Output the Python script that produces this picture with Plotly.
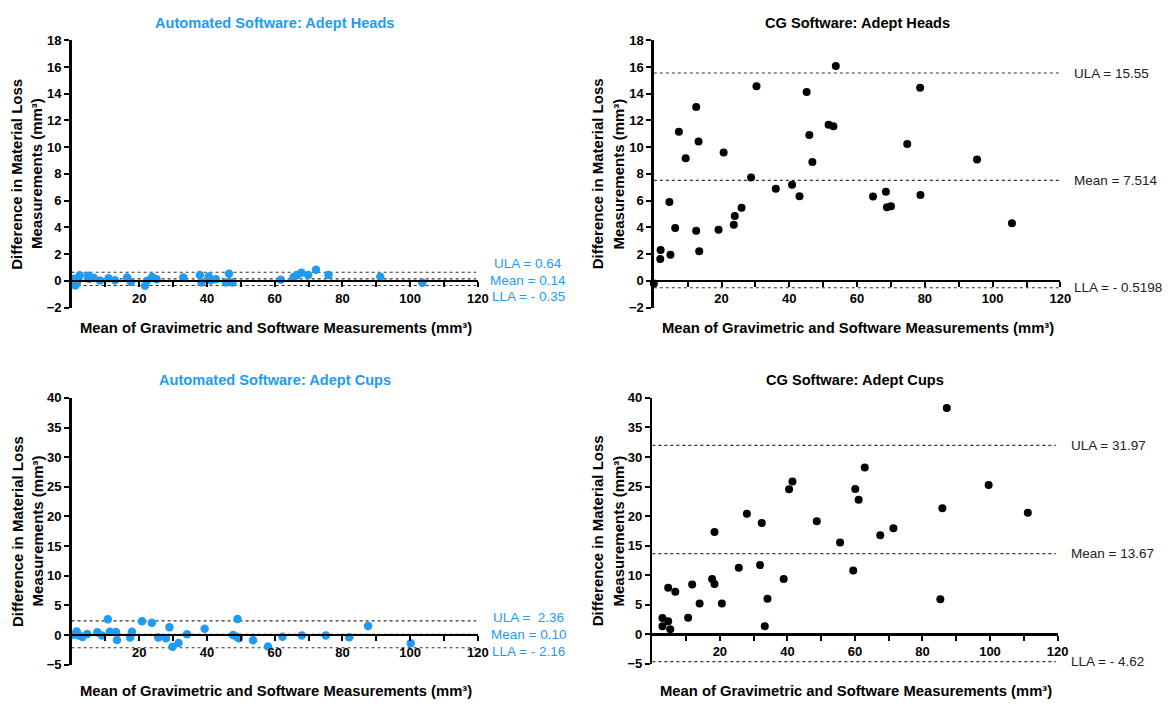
import plotly.graph_objects as go

W, H = 1176, 713
BLUE = "rgb(30,155,245)"
BLACK = "#000000"
GREY = "#222222"
FONT = "Liberation Sans"

# ---------------- data ----------------
# Automated Software: Adept Heads
ah_x = [0.6, 1.1, 1.5, 1.9, 2.4, 4.9, 5.2, 6.5, 8.4, 10.9, 12.8, 16.4, 17.5, 21.7, 22.3, 23.8, 25.1,
        33.0, 37.9, 38.4, 40.5, 41.1, 42.6, 45.6, 46.5, 47.5, 61.8, 65.6, 66.6, 67.9, 69.9, 72.2,
        75.9, 91.2, 103.6]
ah_y = [0.15, -0.35, -0.2, 0.12, 0.42, 0.37, 0.15, 0.22, 0.03, 0.2, 0.05, 0.24, -0.08, -0.37, 0.0,
        0.29, 0.12, 0.24, 0.44, -0.12, 0.33, 0.05, 0.12, -0.12, 0.52, -0.12, 0.08, 0.29, 0.44, 0.61,
        0.44, 0.82, 0.44, 0.3, -0.15]
ah_loa = [0.64, 0.14, -0.35]
ah_labels = ["ULA = 0.64", "Mean = 0.14", "LLA = - 0.35"]

# CG Software: Adept Heads
cgh_x = [0.0, 2.0, 1.9, 4.6, 4.9, 6.3, 7.4, 9.4, 12.5, 13.2, 12.5, 13.4, 19.1, 20.6, 23.6, 23.9, 25.9,
         28.7, 30.3, 36.0, 40.8, 43.0, 45.1, 45.9, 46.8, 51.6, 53.0, 53.7, 64.7, 68.5, 68.8, 70.0,
         74.8, 78.6, 78.7, 95.4, 105.7]
cgh_y = [-0.2, 2.31, 1.63, 5.89, 1.95, 3.95, 11.15, 9.18, 13.0, 10.42, 3.75, 2.22, 3.82, 9.6, 4.19,
         4.85, 5.46, 7.74, 14.56, 6.89, 7.18, 6.33, 14.13, 10.91, 8.89, 11.67, 11.57, 16.07, 6.31,
         6.67, 5.50, 5.58, 10.23, 14.44, 6.43, 9.08, 4.31]
cgh_loa = [15.55, 7.514, -0.5198]
cgh_labels = ["ULA = 15.55", "Mean = 7.514", "LLA = - 0.5198"]

# Automated Software: Adept Cups
ac_x = [0.6, 1.5, 2.2, 3.2, 4.6, 7.6, 9.0, 10.7, 11.3, 13.1, 13.4, 17.3, 17.8, 20.8, 23.7, 25.6, 27.9,
        28.9, 29.8, 31.6, 34.1, 39.3, 47.7, 49.0, 48.7, 49.4, 53.6, 58.0, 62.3, 68.0, 75.1, 82.0,
        87.6, 100.2]
ac_y = [0.05, 0.6, -0.1, -0.35, 0.15, 0.45, -0.1, 2.65, 0.55, 0.5, -0.85, -0.45, 0.55, 2.3, 2.07,
        -0.45, -0.55, 1.3, -2.0, -1.37, 0.1, 1.03, 0.0, 2.7, -0.3, -0.55, -0.9, -1.97, -0.3, -0.1,
        -0.1, -0.4, 1.52, -1.4]
ac_loa = [2.36, 0.10, -2.16]
ac_labels = ["ULA = \u00a02.36", "Mean = 0.10", "LLA = - 2.16"]

# CG Software: Adept Cups
cgc_x = [3.0, 3.0, 4.7, 4.7, 5.3, 6.8, 10.6, 11.8, 14.0, 17.7, 18.4, 18.4, 20.6, 25.6, 28.0, 31.9,
         32.4, 33.3, 34.1, 38.9, 40.5, 41.5, 48.7, 55.6, 59.5, 60.1, 61.1, 62.9, 67.5, 71.4, 85.3,
         85.9, 87.2, 99.6, 111.2]
cgc_y = [2.75, 1.38, 7.87, 2.2, 0.88, 7.21, 2.81, 8.42, 5.23, 9.35, 8.53, 17.33, 5.23, 11.28, 20.41,
         11.72, 18.82, 1.38, 6.0, 9.35, 24.54, 25.86, 19.15, 15.52, 10.78, 24.59, 22.78, 28.23,
         16.78, 17.94, 5.94, 21.35, 38.29, 25.25, 20.58]
cgc_loa = [31.97, 13.67, -4.62]
cgc_labels = ["ULA = 31.97", "Mean = 13.67", "LLA = - 4.62"]

titles = ["Automated Software: Adept Heads", "CG Software: Adept Heads",
          "Automated Software: Adept Cups", "CG Software: Adept Cups"]
x_title = "Mean of Gravimetric and Software Measurements (mm\u00b3)"
y_title_1 = "Difference in Material Loss"
y_title_2 = "Measurements (mm\u00b3)"
x_tickvals = [10, 20, 30, 40, 50, 60, 70, 80, 90, 100, 110, 120]
x_ticktext = ["", "20", "", "40", "", "60", "", "80", "", "100", "", "120"]

# ---------------- layout geometry (pixels) ----------------
panels = [
    dict(x=(72.3, 482.3), y=(34.0, 307.0), yr=(-2, 18), dt=2, xs=ah_x, ys=ah_y, loa=ah_loa,
         lab=ah_labels, col=BLUE, tcol=BLUE, ytl=(17, 37.5), ttl_y=16, xt_y=328),
    dict(x=(660.0, 1070.4), y=(34.0, 307.0), yr=(-2, 18), dt=2, xs=cgh_x, ys=cgh_y, loa=cgh_loa,
         lab=cgh_labels, col=BLACK, tcol=BLACK, ytl=(604, 624.5), ttl_y=16, xt_y=328),
    dict(x=(72.3, 482.3), y=(399.3, 671.7), yr=(-5, 40), dt=5, xs=ac_x, ys=ac_y, loa=ac_loa,
         lab=ac_labels, col=BLUE, tcol=BLUE, ytl=(17, 37.5), ttl_y=381, xt_y=699),
    dict(x=(658.5, 1067.5), y=(399.3, 671.0), yr=(-5, 40), dt=5, xs=cgc_x, ys=cgc_y, loa=cgc_loa,
         lab=cgc_labels, col=BLACK, tcol=BLACK, ytl=(604, 624.5), ttl_y=381, xt_y=699),
]


def px(v):
    return v / W


def py(v):
    return 1 - v / H


fig = go.Figure()
shapes = []
annotations = []
TICKFONT = dict(family=FONT, size=13, color=BLACK, weight="bold")

for i, p in enumerate(panels):
    n = "" if i == 0 else str(i + 1)
    xa, ya = "x" + n, "y" + n
    ydom = [py(p["y"][1]), py(p["y"][0])]
    y0, y1 = p["yr"]
    zero_pos = ydom[0] + (0 - y0) / (y1 - y0) * (ydom[1] - ydom[0])

    fig.add_trace(go.Scatter(
        x=p["xs"], y=p["ys"], mode="markers", xaxis=xa, yaxis=ya,
        marker=dict(size=8.5 if p["col"] == BLUE else 8, color=p["col"], line=dict(width=0)),
        showlegend=False, cliponaxis=False, hoverinfo="skip"))

    fig.layout["xaxis" + n] = dict(
        domain=[px(p["x"][0]), px(p["x"][1])], range=[0, 120], anchor="free", position=zero_pos,
        showline=True, linecolor=BLACK, linewidth=2.5, ticks="outside", ticklen=5, tickwidth=2,
        tickcolor=BLACK, tickvals=x_tickvals, ticktext=x_ticktext, showgrid=False, zeroline=False,
        tickfont=TICKFONT)
    fig.layout["yaxis" + n] = dict(
        domain=ydom, range=list(p["yr"]), anchor=xa, showline=True, linecolor=BLACK,
        linewidth=2.5, ticks="outside", ticklen=5, tickwidth=2, tickcolor=BLACK, dtick=p["dt"],
        tick0=0, showgrid=False, zeroline=False, tickfont=TICKFONT)

    for v in p["loa"]:
        shapes.append(dict(type="line", xref=xa, yref=ya, x0=0, x1=119.5, y0=v, y1=v,
                           line=dict(color="#333333", width=1.2, dash="dot"), layer="below"))

    cx = (p["x"][0] + p["x"][1]) / 2
    annotations.append(dict(text=titles[i], x=px(cx), y=py(p["ttl_y"]),
                            xref="paper", yref="paper", showarrow=False, xanchor="center",
                            yanchor="middle",
                            font=dict(family=FONT, size=14.6, color=p["tcol"], weight="bold")))
    annotations.append(dict(text=x_title, x=px(cx + 1), y=py(p["xt_y"]),
                            xref="paper", yref="paper", showarrow=False, xanchor="center",
                            yanchor="middle",
                            font=dict(family=FONT, size=14.8, color=BLACK, weight="bold")))
    cy = (p["y"][0] + p["y"][1]) / 2
    for t, xx in zip([y_title_1, y_title_2], p["ytl"]):
        annotations.append(dict(text=t, x=px(xx), y=py(cy), xref="paper",
                                yref="paper", showarrow=False, textangle=-90, xanchor="center",
                                yanchor="middle",
                                font=dict(family=FONT, size=15, color=BLACK, weight="bold")))

for p, ys in [(panels[0], [262, 279, 296]), (panels[2], [624, 641, 658])]:
    for t, yy in zip(p["lab"], ys):
        annotations.append(dict(text=t, x=px(533), y=py(yy), xref="paper", yref="paper",
                                showarrow=False, xanchor="center", yanchor="middle",
                                font=dict(family=FONT, size=13.5, color=BLUE)))
for p, n, xl in [(panels[1], "2", 1082.5), (panels[3], "4", 1079.5)]:
    for t, v in zip(p["lab"], p["loa"]):
        annotations.append(dict(text=t, x=px(xl), y=v, xref="paper", yref="y" + n,
                                showarrow=False, xanchor="left", yanchor="middle",
                                font=dict(family=FONT, size=13.5, color=GREY)))

fig.update_layout(width=W, height=H, margin=dict(l=0, r=0, t=0, b=0),
                  paper_bgcolor="white", plot_bgcolor="white",
                  shapes=shapes, annotations=annotations, showlegend=False,
                  font=dict(family=FONT), hovermode=False)

fig.write_html("out.html", config={"displayModeBar": False, "staticPlot": True},
               post_script="document.body.style.margin='0';document.body.style.overflow='hidden';")
